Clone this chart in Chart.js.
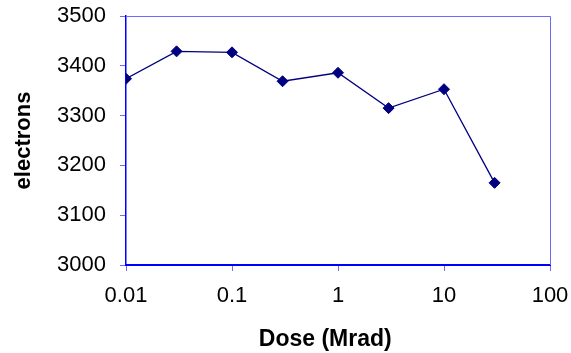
<!DOCTYPE html>
<html>
<head>
<meta charset="utf-8">
<script src="https://cdn.jsdelivr.net/npm/chart.js@4"></script>
<style>
  html, body { margin: 0; padding: 0; background: #fff; }
  #wrap { width: 571px; height: 353px; }
</style>
</head>
<body>
<div id="wrap"><canvas id="doseChart" width="571" height="353"></canvas></div>
<script>
// data
const doses = [0.01, 0.03, 0.1, 0.3, 1, 3, 10, 30];
const electrons = [3374, 3429, 3427, 3369, 3386, 3315, 3353, 3165];
const xTicks = [0.01, 0.1, 1, 10, 100];
const xLabels = ["0.01", "0.1", "1", "10", "100"];

const navy = "#000080";
const axisBlue = "#0000ff";
const lightBlue = "#6b6bff";

// top and right border of the plot area
const frame = {
  id: "frame",
  afterDraw(chart) {
    const a = chart.chartArea;
    const c = chart.ctx;
    c.save();
    c.strokeStyle = lightBlue;
    c.lineWidth = 1;
    c.beginPath();
    c.moveTo(a.left, a.top + 0.5);
    c.lineTo(a.right + 0.5, a.top + 0.5);
    c.lineTo(a.right + 0.5, a.bottom);
    c.stroke();
    c.restore();
  }
};

const ctx = document.getElementById("doseChart").getContext("2d");
new Chart(ctx, {
  type: "line",
  data: {
    datasets: [{
      data: doses.map((d, i) => ({ x: d, y: electrons[i] })),
      borderColor: navy,
      borderWidth: 1.3,
      backgroundColor: navy,
      pointStyle: "rectRot",
      pointRadius: 5.5,
      pointBorderWidth: 1,
      pointBorderColor: navy,
      pointBackgroundColor: navy,
      tension: 0
    }]
  },
  options: {
    responsive: false,
    animation: false,
    layout: { padding: { top: 16, right: 21, left: 0, bottom: 0 } },
    plugins: { legend: { display: false }, tooltip: { enabled: false } },
    scales: {
      x: {
        type: "logarithmic",
        min: 0.01,
        max: 100,
        afterBuildTicks(scale) {
          scale.ticks = xTicks.map(v => ({ value: v }));
        },
        afterFit(scale) {
          scale.height = 88;
          scale.paddingLeft = 0;
          scale.paddingRight = 0;
        },
        ticks: {
          callback: (v) => xLabels[xTicks.indexOf(v)] ?? "",
          color: "#000",
          font: { family: "Liberation Sans", size: 22 },
          padding: 12,
          maxRotation: 0,
          autoSkip: false
        },
        grid: { drawOnChartArea: false, color: lightBlue, tickLength: 6 },
        border: { color: axisBlue, width: 2 },
        title: {
          display: true,
          // trailing spaces nudge the title left like in the original
          text: "Dose (Mrad)    ",
          color: "#000",
          font: { family: "Liberation Sans", size: 23, weight: "bold" },
          padding: { top: 3, bottom: 0 }
        }
      },
      y: {
        min: 3000,
        max: 3500,
        afterFit(scale) {
          scale.width = 126;
          scale.paddingTop = 0;
          scale.paddingBottom = 0;
        },
        ticks: {
          stepSize: 100,
          callback: (v) => String(v),
          color: "#000",
          font: { family: "Liberation Sans", size: 22 },
          padding: 14
        },
        grid: { drawOnChartArea: false, color: lightBlue, tickLength: 6 },
        border: { color: axisBlue, width: 1.5 },
        title: {
          display: true,
          text: "electrons",
          color: "#000",
          font: { family: "Liberation Sans", size: 22, weight: "bold" },
          padding: { top: 11, bottom: 0 }
        }
      }
    }
  },
  plugins: [frame]
});
</script>
</body>
</html>
